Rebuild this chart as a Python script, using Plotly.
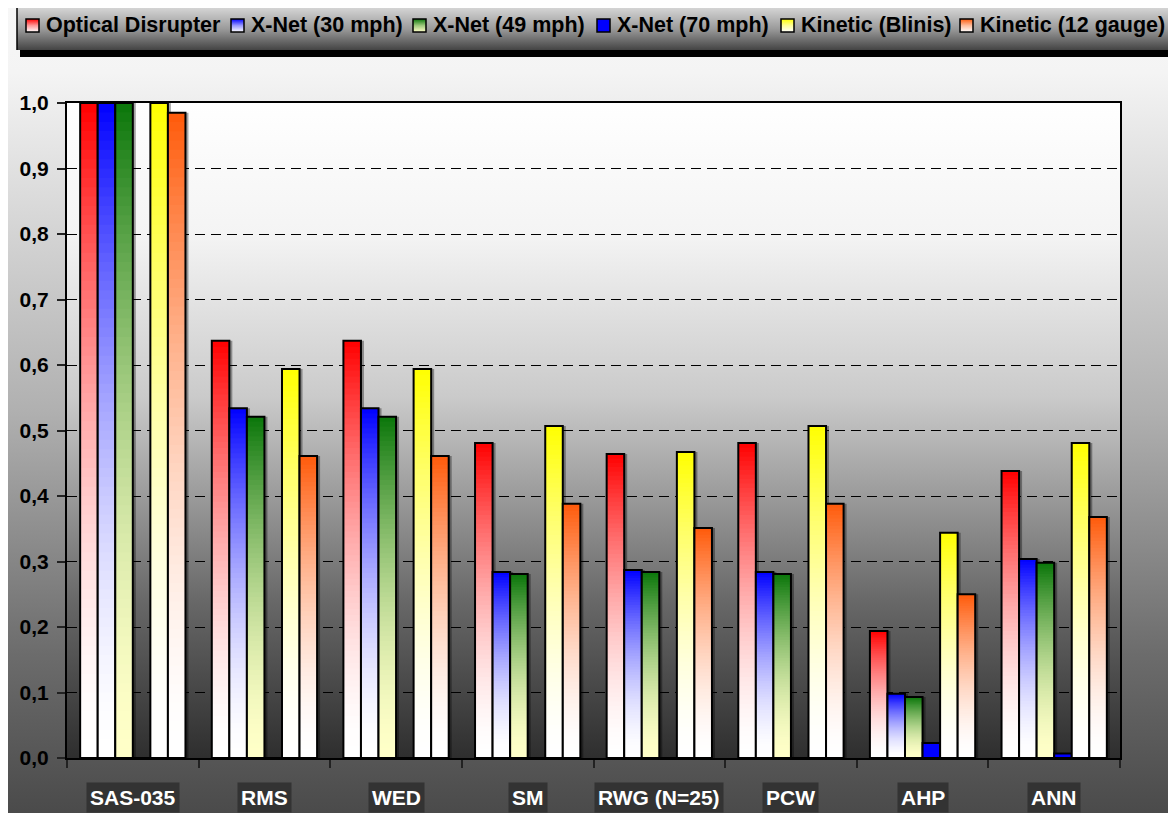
import base64
import plotly.graph_objects as go

# ---------------- data ----------------
categories = ["SAS-035", "RMS", "WED", "SM", "RWG (N=25)", "PCW", "AHP", "ANN"]
series_names = ["Optical Disrupter", "X-Net (30 mph)", "X-Net (49 mph)",
                "X-Net (70 mph)", "Kinetic (Blinis)", "Kinetic (12 gauge)"]
optical_disrupter = [1.0, 0.637, 0.637, 0.481, 0.464, 0.481, 0.194, 0.438]
xnet_30 = [1.0, 0.534, 0.534, 0.284, 0.287, 0.284, 0.098, 0.304]
xnet_49 = [1.0, 0.521, 0.521, 0.281, 0.284, 0.281, 0.093, 0.298]
xnet_70 = [0, 0, 0, 0, 0, 0, 0.023, 0.007]
kinetic_blinis = [1.0, 0.594, 0.594, 0.507, 0.467, 0.507, 0.344, 0.481]
kinetic_12g = [0.985, 0.461, 0.461, 0.388, 0.351, 0.388, 0.250, 0.368]
y_tick_vals = [0.0, 0.1, 0.2, 0.3, 0.4, 0.5, 0.6, 0.7, 0.8, 0.9, 1.0]

series_values = [optical_disrupter, xnet_30, xnet_49, xnet_70, kinetic_blinis, kinetic_12g]

# ---------------- styles ----------------
# (top colour, bottom colour); bottom None -> solid
series_style = [
    ("#ff0000", "#ffffff"),
    ("#0000ff", "#ffffff"),
    ("#0a760a", "#ffffc8"),
    ("#0000ff", None),
    ("#ffff00", "#ffffff"),
    ("#ff5a0a", "#ffffff"),
]

FONT = "Liberation Sans, Arial, sans-serif"
PAGE_OFF = 8                      # the page's body margin
PAGE_W, PAGE_H = 1176, 813
W, H = PAGE_W - PAGE_OFF, PAGE_H - PAGE_OFF
# plot area in page pixels
PL, PR, PT, PB = 67, 1120, 103, 758
PW, PH = PR - PL, PB - PT
N_STEPS = 70
GROUP_W = 0.8
BW = GROUP_W / len(series_names)
SHADOW_DX = 3.0 / (PW / len(categories))


def hex2rgb(h):
    h = h.lstrip("#")
    return tuple(int(h[i:i + 2], 16) for i in (0, 2, 4))


def mix(c1, c2, w):
    a, b = hex2rgb(c1), hex2rgb(c2)
    return "rgb(%d,%d,%d)" % tuple(round(a[i] + (b[i] - a[i]) * w) for i in range(3))


def profile(f):
    # f = fraction from top of bar (0 top, 1 bottom)
    return 1 - (1 - f) ** 1.7


def svg_grad(w, h, stops):
    st = "".join('<stop offset="%s" stop-color="%s"/>' % (o, c) for o, c in stops)
    svg = ('<svg xmlns="http://www.w3.org/2000/svg" width="%d" height="%d" viewBox="0 0 %d %d" '
           'preserveAspectRatio="none"><defs><linearGradient id="g" x1="0" y1="0" x2="0" y2="1">%s'
           '</linearGradient></defs><rect x="0" y="0" width="%d" height="%d" fill="url(#g)"/></svg>'
           % (w, h, w, h, st, w, h))
    return "data:image/svg+xml;base64," + base64.b64encode(svg.encode()).decode()


def px_x(px):
    return (px - PL) / PW


def px_y(py):
    return (PB - py) / PH


def image(x0, y0, x1, y1, src, layer="below"):
    return dict(source=src, xref="paper", yref="paper", x=px_x(x0), y=px_y(y0),
                sizex=(x1 - x0) / PW, sizey=(y1 - y0) / PH, xanchor="left", yanchor="top",
                sizing="stretch", layer=layer)


fig = go.Figure()

# soft drop shadows behind the bars
for i, (name, vals) in enumerate(zip(series_names, series_values)):
    off = -GROUP_W / 2 + i * BW
    fig.add_trace(go.Bar(x=categories, y=vals, name=name, width=BW, offset=off + SHADOW_DX,
                         marker=dict(color="rgba(0,0,0,0.35)", line=dict(width=0)),
                         showlegend=False, hoverinfo="skip"))

for i, (name, vals) in enumerate(zip(series_names, series_values)):
    top, bottom = series_style[i]
    off = -GROUP_W / 2 + i * BW
    if bottom is None:
        fig.add_trace(go.Bar(x=categories, y=vals, name=name, width=BW, offset=off,
                             marker=dict(color=top, line=dict(color="black", width=2)),
                             showlegend=False, hoverinfo="skip"))
        continue
    for k in range(N_STEPS, 0, -1):
        frac = k / N_STEPS
        f_top = 1 - (k - 0.5) / N_STEPS
        col = mix(top, bottom, profile(f_top))
        fig.add_trace(go.Bar(x=categories, y=[v * frac for v in vals], name=name,
                             width=BW, offset=off,
                             marker=dict(color=col, line=dict(width=0)),
                             showlegend=False, hoverinfo="skip"))
    fig.add_trace(go.Bar(x=categories, y=vals, name=name, width=BW, offset=off,
                         marker=dict(color="rgba(0,0,0,0)", line=dict(color="black", width=2)),
                         showlegend=False, hoverinfo="skip"))

images = []
shapes = []
annotations = []

# outer background (whole figure)
images.append(image(PAGE_OFF, PAGE_OFF, PAGE_W + 2, PAGE_H + 2,
                    svg_grad(10, 10, [(0, "#f7f7f7"), (0.08, "#f4f4f4"), (0.5, "#b0b0b0"),
                                      (0.8, "#6c6c6c"), (1, "#4a4a4a")])))
# plot area background
images.append(image(PL, PT, PR, PB, svg_grad(10, 10, [(0, "#ffffff"), (0.2, "#f4f4f4"),
                                                      (0.45, "#cacaca"), (0.76, "#686868"),
                                                      (1, "#2e2e2e")])))
# legend box + shadow
images.append(image(17, 8, PAGE_W + 2, 50, svg_grad(10, 10, [(0, "#d4d4d4"), (0.5, "#9a9a9a"),
                                                            (1, "#444444")])))
shapes.append(dict(type="rect", xref="paper", yref="paper", x0=px_x(20), x1=px_x(PAGE_W + 2),
                   y0=px_y(57), y1=px_y(50), fillcolor="black", line=dict(width=0), layer="below"))
shapes.append(dict(type="line", xref="paper", yref="paper", x0=px_x(17), x1=px_x(17),
                   y0=px_y(50), y1=px_y(8), line=dict(color="black", width=1.5)))

legend_sym_x = [26, 231, 413, 597, 781, 960]
for i, name in enumerate(series_names):
    top, bottom = series_style[i]
    sx = legend_sym_x[i]
    if bottom is None:
        src = svg_grad(10, 10, [(0, top), (1, top)])
    else:
        src = svg_grad(10, 10, [(0, top), (0.5, mix(top, bottom, 0.6)), (1, bottom)])
    images.append(image(sx, 19, sx + 13, 32, src, layer="above"))
    shapes.append(dict(type="rect", xref="paper", yref="paper", x0=px_x(sx), x1=px_x(sx + 13),
                       y0=px_y(32), y1=px_y(19), line=dict(color="black", width=1.5),
                       fillcolor="rgba(0,0,0,0)", layer="above"))
    annotations.append(dict(text="<b>%s</b>" % name, xref="paper", yref="paper",
                            x=px_x(sx + 18), y=px_y(25.5), xanchor="left", yanchor="middle",
                            showarrow=False, font=dict(family=FONT, size=21.5, color="black")))

# category labels
for c in categories:
    annotations.append(dict(text="<b>%s</b>" % c, x=c, y=0, xref="x", yref="y",
                            yanchor="top", yshift=-24, showarrow=False, bgcolor="#333333",
                            borderpad=3, font=dict(family=FONT, size=21, color="white")))

fig.update_layout(
    width=W, height=H,
    margin=dict(l=PL - PAGE_OFF, r=PAGE_W - PR, t=PT - PAGE_OFF, b=PAGE_H - PB, pad=0),
    barmode="overlay",
    paper_bgcolor="white",
    plot_bgcolor="rgba(0,0,0,0)",
    separators=",.",
    showlegend=False,
    images=images,
    shapes=shapes,
    annotations=annotations,
    font=dict(family=FONT),
    xaxis=dict(type="category", range=[-0.5, len(categories) - 0.5], showticklabels=False,
               ticks="outside", tickson="boundaries", ticklen=8, tickcolor="#222",
               tickwidth=1.5, showline=True, linecolor="black", linewidth=2, mirror=True,
               showgrid=False, zeroline=False),
    yaxis=dict(range=[0, 1.0], tickvals=y_tick_vals, tickformat=".1f", ticks="outside",
               ticklen=8, tickcolor="#222", tickwidth=1.5,
               tickfont=dict(family=FONT, size=21, color="black", weight="bold"),
               showline=True, linecolor="black", linewidth=2, mirror=True,
               showgrid=True, gridcolor="black", gridwidth=1, griddash="10px,6px",
               zeroline=False, ticklabelstandoff=4),
)

fig.write_html("out.html")
